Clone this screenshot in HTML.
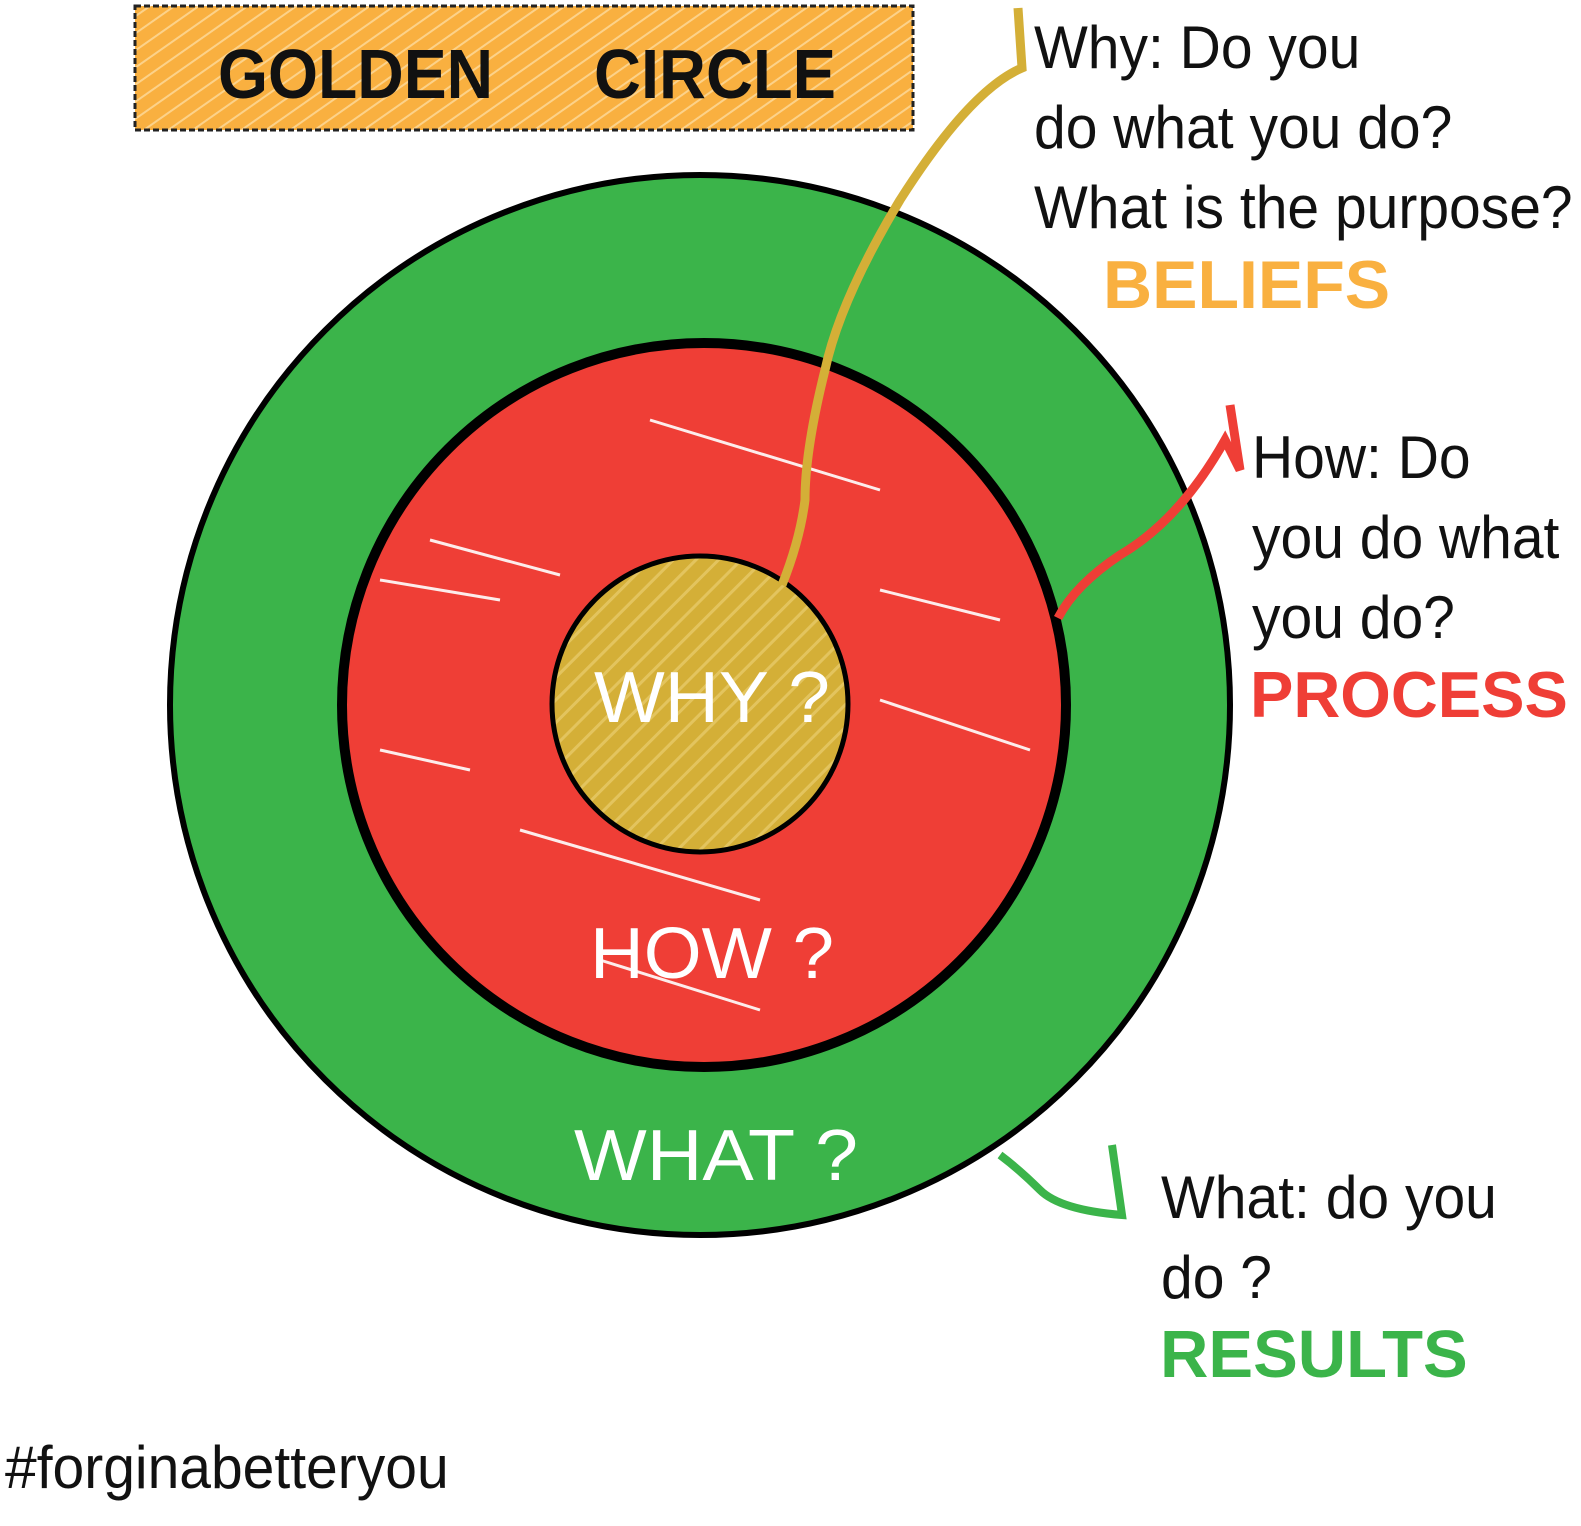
<!DOCTYPE html>
<html><head><meta charset="utf-8"><style>
html,body{margin:0;padding:0;background:#fff;}
body{width:1581px;height:1526px;position:relative;overflow:hidden;font-family:"Liberation Sans",sans-serif;}
.t{position:absolute;white-space:nowrap;color:#111;font-size:60px;line-height:80px;transform-origin:0 0;transform:scaleX(0.95);}
.b{position:absolute;white-space:nowrap;font-weight:bold;line-height:70px;}
</style></head><body>
<svg width="1581" height="1526" style="position:absolute;left:0;top:0">
<defs>
<pattern id="h" width="14" height="14" patternUnits="userSpaceOnUse" patternTransform="rotate(-35)">
<rect width="14" height="14" fill="#F9B040"/><line x1="0" y1="7" x2="14" y2="7" stroke="#fcd28a" stroke-width="2"/></pattern>
<pattern id="g" width="16" height="16" patternUnits="userSpaceOnUse" patternTransform="rotate(-45)">
<rect width="16" height="16" fill="#D4AF37"/><line x1="0" y1="8" x2="16" y2="8" stroke="#e3c45e" stroke-width="3"/></pattern>
</defs>
<rect x="135" y="6" width="778" height="124" fill="url(#h)" stroke="#222" stroke-width="3" stroke-dasharray="6 3"/>
<circle cx="700" cy="705" r="530" fill="#3BB44A" stroke="#000" stroke-width="6"/>
<circle cx="704" cy="705" r="362" fill="#EF3E36" stroke="#000" stroke-width="10"/>
<g stroke="#fff" stroke-width="3" opacity="0.9">
<line x1="650" y1="420" x2="880" y2="490"/><line x1="380" y1="580" x2="500" y2="600"/><line x1="520" y1="830" x2="760" y2="900"/>
<line x1="430" y1="540" x2="560" y2="575"/><line x1="880" y1="700" x2="1030" y2="750"/><line x1="600" y1="960" x2="760" y2="1010"/>
<line x1="880" y1="590" x2="1000" y2="620"/><line x1="380" y1="750" x2="470" y2="770"/></g>
<circle cx="700" cy="704" r="148" fill="url(#g)" stroke="#000" stroke-width="5"/>
<path d="M1018 8 L1022 68 Q970 90 900 200 Q840 300 825 370 Q805 450 805 500 Q800 540 782 585" fill="none" stroke="#D4AF37" stroke-width="9"/>
<path d="M1230 405 L1240 470 L1225 440 Q1180 520 1120 555 Q1075 585 1058 618" fill="none" stroke="#EF3E36" stroke-width="9"/>
<path d="M1112 1145 L1122 1215 Q1060 1210 1040 1190 Q1020 1170 1000 1155" fill="none" stroke="#3BB44A" stroke-width="8"/>
<text x="218" y="98" font-family="Liberation Sans" font-weight="bold" font-size="70" fill="#111" textLength="275" lengthAdjust="spacingAndGlyphs">GOLDEN</text>
<text x="594" y="98" font-family="Liberation Sans" font-weight="bold" font-size="70" fill="#111" textLength="242" lengthAdjust="spacingAndGlyphs">CIRCLE</text>
<text x="594" y="722" font-family="Liberation Sans" font-size="72" fill="#fff" textLength="236" lengthAdjust="spacingAndGlyphs">WHY ?</text>
<text x="590" y="978" font-family="Liberation Sans" font-size="72" fill="#fff" textLength="244" lengthAdjust="spacingAndGlyphs">HOW ?</text>
<text x="574" y="1180" font-family="Liberation Sans" font-size="72" fill="#fff" textLength="284" lengthAdjust="spacingAndGlyphs">WHAT ?</text>
</svg>
<div class="t" style="left:1034px;top:8px">Why: Do you</div>
<div class="t" style="left:1034px;top:88px">do what you do?</div>
<div class="t" style="left:1034px;top:168px">What is the purpose?</div>
<div class="b" style="left:1103px;top:250px;color:#F9B040;font-size:68px">BELIEFS</div>
<div class="t" style="left:1252px;top:418px">How: Do</div>
<div class="t" style="left:1252px;top:498px">you do what</div>
<div class="t" style="left:1252px;top:578px">you do?</div>
<div class="b" style="left:1250px;top:660px;color:#EF3E36;font-size:65px">PROCESS</div>
<div class="t" style="left:1161px;top:1158px">What: do you</div>
<div class="t" style="left:1161px;top:1238px">do ?</div>
<div class="b" style="left:1160px;top:1320px;color:#3BB44A;font-size:67px">RESULTS</div>
<div class="t" style="left:5px;top:1428px">#forginabetteryou</div>
</body></html>
